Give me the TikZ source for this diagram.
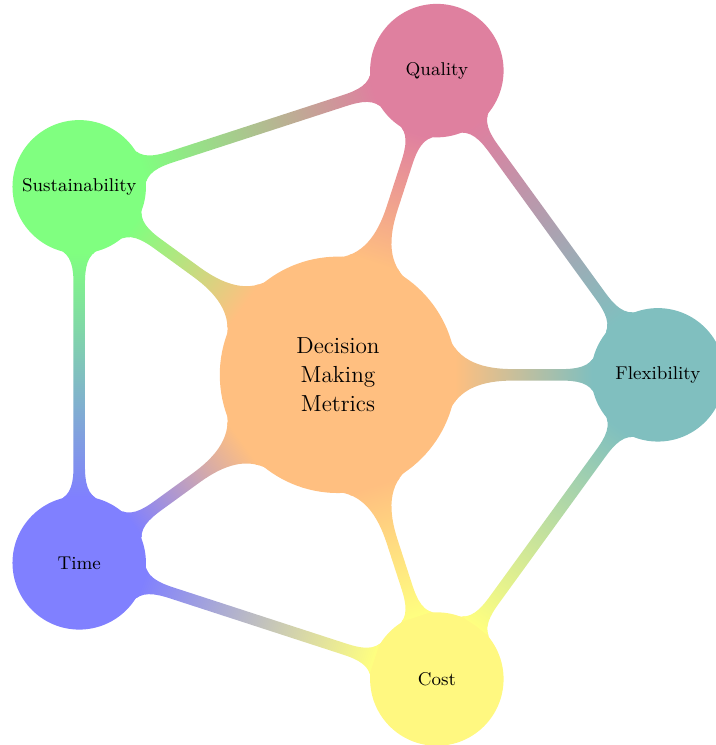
\documentclass[tikz,border=0pt]{standalone}
\usetikzlibrary{mindmap}

\begin{document}
\begin{tikzpicture}[mindmap, every node/.style=concept, concept color=orange!50,
		root concept/.append style={minimum size=4cm, text width=3cm, font=\fontsize{11.3}{14}\selectfont},
		level 1 concept/.append style={level distance=5.47cm, minimum size=2.24cm, text width=2.1cm, font=\small}]
				\useasboundingbox (-5.78,-6.33) rectangle (6.46,6.41);
				
				% Nút trung tâm và các nhánh
				\node[root concept] (metrics) {Decision\\Making\\Metrics}
					child[grow=0, concept color=teal!50] {node (flex) {Flexibility}}
					child[grow=72, concept color=purple!50] {node (quality) {Quality}}
					child[grow=144, concept color=green!50] {node (sustain) {Sustainability}}
					child[grow=216, concept color=blue!50] {node (time) {Time}}
					child[grow=288, concept color=yellow!50] {node (cost) {Cost}};
				
				% Nối các nhánh với nhau
				\path (quality) to[circle connection bar switch color=from (purple!50) to (teal!50)] (flex);
				\path (sustain) to[circle connection bar switch color=from (green!50) to (purple!50)] (quality);
				\path (time) to[circle connection bar switch color=from (blue!50) to (green!50)] (sustain);
				\path (cost) to[circle connection bar switch color=from (yellow!50) to (blue!50)] (time);
				\path (flex) to[circle connection bar switch color=from (teal!50) to (yellow!50)] (cost);
			\end{tikzpicture}
\end{document}
